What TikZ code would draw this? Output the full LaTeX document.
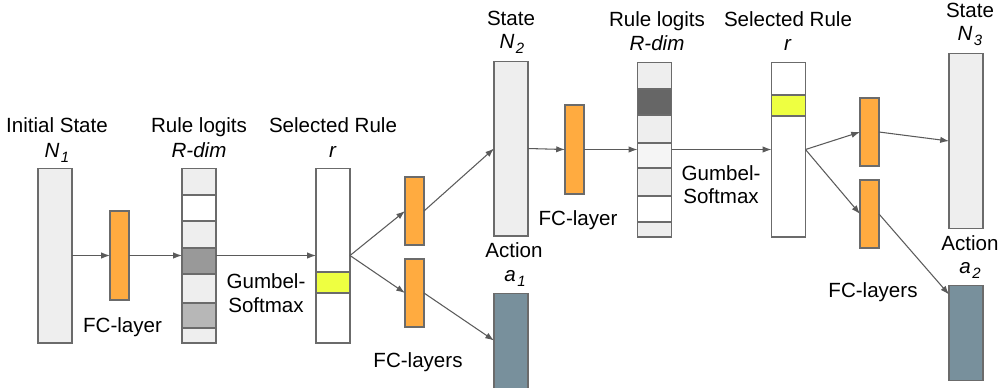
\documentclass[tikz,border=0pt]{standalone}
\usepackage{fontspec}
\setmainfont{Liberation Sans}
\usetikzlibrary{arrows.meta,calc}
\definecolor{lightcell}{HTML}{EEEEEE}
\definecolor{lightercell}{HTML}{F5F5F5}
\definecolor{bordergray}{HTML}{6B6B6B}
\definecolor{fcorange}{HTML}{FFAB40}
\definecolor{selyellow}{HTML}{EEFF41}
\definecolor{slate}{HTML}{78909C}
\definecolor{darkcell}{HTML}{666666}
\definecolor{midcell}{HTML}{999999}
\definecolor{softcell}{HTML}{B7B7B7}
\definecolor{arrowgray}{HTML}{5A5A5A}
\newcommand{\lowsub}[1]{\kern0.8pt\raisebox{-3.2pt}{\fontsize{8.5}{10}\selectfont\textit{#1}}}
\tikzset{
  bx/.style={draw=bordergray, line width=0.6pt, inner sep=0pt, outer sep=0pt, minimum width=0.68cm},
  statebox/.style={bx, fill=lightcell, minimum height=3.5cm},
  vecbox/.style={bx, minimum height=3.5cm},
  fcbox/.style={bx, fill=fcorange, minimum width=0.38cm},
  actbox/.style={bx, fill=slate, minimum height=1.9cm},
  cell/.style={draw=bordergray, line width=0.6pt},
  arr/.style={draw=arrowgray, line width=0.6pt, -{Latex[length=5pt,width=3.6pt]}},
  lbl/.style={anchor=base, inner sep=0pt, font=\fontsize{11.7}{14}\selectfont}
}
\begin{document}
\begin{tikzpicture}[x=0.02cm,y=-0.02cm]
\useasboundingbox (0,0) rectangle (1000,387);

% ---- logits 1 cells
\fill[lightcell] (182,168) rectangle (216,195);
\fill[white] (182,195) rectangle (216,221);
\fill[lightcell] (182,221) rectangle (216,248);
\fill[midcell] (182,248) rectangle (216,274);
\fill[lightcell] (182,274) rectangle (216,303);
\fill[softcell] (182,303) rectangle (216,328);
\fill[lightcell] (182,328) rectangle (216,343);
\foreach \yy in {195,221,248,274,303,328} \draw[cell] (182,\yy) -- (216,\yy);

% ---- logits 2 cells
\fill[lightcell] (637,62) rectangle (672,89);
\fill[darkcell] (637,89) rectangle (672,115);
\fill[lightcell] (637,115) rectangle (672,143);
\fill[lightercell] (637,143) rectangle (672,168);
\fill[lightcell] (637,168) rectangle (672,196);
\fill[white] (637,196) rectangle (672,222);
\fill[lightcell] (637,222) rectangle (672,237);
\foreach \yy in {89,115,143,168,196,222} \draw[cell] (637,\yy) -- (672,\yy);

% ---- selected rule cells
\fill[white] (316,168) rectangle (350,343);
\fill[selyellow] (316,272) rectangle (350,293);
\draw[cell] (316,272) -- (350,272) (316,293) -- (350,293);
\fill[white] (771,62) rectangle (806,237);
\fill[selyellow] (771,95) rectangle (806,116);
\draw[cell] (771,95) -- (806,95) (771,116) -- (806,116);

% ---- boxes
\node[statebox] (n1) at (55,255.5) {};
\node[fcbox, minimum height=1.78cm] (fc1) at (119.5,255.5) {};
\node[vecbox] (lg1) at (199,255.5) {};
\node[vecbox] (r1) at (333,255.5) {};
\node[fcbox, minimum height=1.36cm] (fca) at (414.5,211) {};
\node[fcbox, minimum height=1.36cm] (fcb) at (414.5,293) {};
\node[statebox] (n2) at (511,148.5) {};
\node[actbox] (a1) at (511,341) {};
\node[fcbox, minimum height=1.78cm] (fc2) at (574.5,149.5) {};
\node[vecbox] (lg2) at (654.5,149.5) {};
\node[vecbox] (r2) at (788.5,149.5) {};
\node[fcbox, minimum height=1.36cm] (fcc) at (869.5,132) {};
\node[fcbox, minimum height=1.36cm] (fcd) at (869.5,214) {};
\node[statebox] (n3) at (966,141) {};
\node[actbox] (a2) at (966,333) {};

% ---- connectors
\draw[arr] (n1.east) -- (fc1.west);
\draw[arr] (fc1.east) -- (lg1.west);
\draw[arr] (lg1.east) -- (r1.west);
\draw[arr] (r1.east) -- (fca.west);
\draw[arr] (r1.east) -- (fcb.west);
\draw[arr] (fca.east) -- (n2.west);
\coordinate (a1in) at ($(a1.north west)+(0,47)$);
\draw[arr] (fcb.east) -- (a1in);
\draw[arr] (n2.east) -- (fc2.west);
\draw[arr] (fc2.east) -- (lg2.west);
\draw[arr] (lg2.east) -- (r2.west);
\draw[arr] (r2.east) -- (fcc.west);
\draw[arr] (r2.east) -- (fcd.west);
\draw[arr] (fcc.east) -- (n3.west);
\coordinate (a2in) at ($(a2.north west)+(0,9)$);
\draw[arr] (fcd.east) -- (a2in);

% ---- labels
\node[lbl] (t1) at (57,132) {Initial State};
\node[lbl] (t2) at (57,157) {\textit{N}\lowsub{1}};
\node[lbl] (t3) at (199,132) {Rule logits};
\node[lbl] (t4) at (199,157) {\textit{R-dim}};
\node[lbl] (t5) at (333,132) {Selected Rule};
\node[lbl] (t6) at (333,157) {\textit{r}};
\node[lbl] (t7) at (122.5,332) {FC-layer};
\node[lbl] (t8) at (266,288) {Gumbel-};
\node[lbl] (t9) at (266,312) {Softmax};
\node[lbl] (t10) at (418,367) {FC-layers};
\node[lbl] (t11) at (511,25) {State};
\node[lbl] (t12) at (512,48) {\textit{N}\lowsub{2}};
\node[lbl] (t13) at (514,257) {Action};
\node[lbl] (t14) at (515,281) {\textit{a}\lowsub{1}};
\node[lbl] (t15) at (578,225) {FC-layer};
\node[lbl] (t16) at (657,26) {Rule logits};
\node[lbl] (t17) at (657,50) {\textit{R-dim}};
\node[lbl] (t18) at (788,26) {Selected Rule};
\node[lbl] (t19) at (788,50) {\textit{r}};
\node[lbl] (t20) at (721,180) {Gumbel-};
\node[lbl] (t21) at (721,203) {Softmax};
\node[lbl] (t22) at (873,297) {FC-layers};
\node[lbl] (t23) at (970,17) {State};
\node[lbl] (t24) at (970,40) {\textit{N}\lowsub{3}};
\node[lbl] (t25) at (970,250) {Action};
\node[lbl] (t26) at (970,273) {\textit{a}\lowsub{2}};
\end{tikzpicture}
\end{document}
